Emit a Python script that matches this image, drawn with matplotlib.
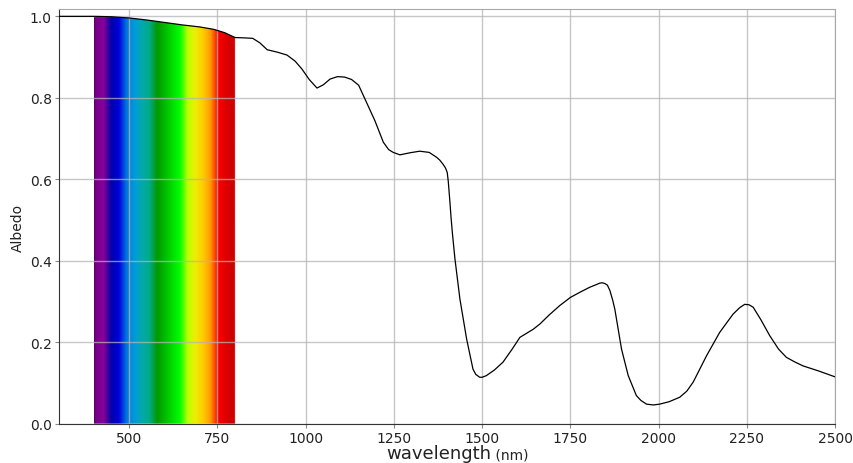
import numpy as np
import matplotlib
matplotlib.use("Agg")
import matplotlib.pyplot as plt
from matplotlib.colors import Normalize
from matplotlib.patches import Polygon

# snow albedo curve
wavelength = [300, 350, 400, 450, 500, 550, 600, 650, 700, 740, 770, 800,
              830, 850, 870, 891, 920, 947, 970, 989, 1010, 1032, 1050, 1069,
              1090, 1110, 1130, 1150, 1168, 1196, 1220, 1235, 1248, 1267, 1295,
              1323, 1350, 1371, 1380, 1390, 1396, 1401, 1404, 1408, 1412, 1416,
              1423, 1437, 1456, 1474, 1482, 1493, 1500, 1512, 1535, 1559, 1585,
              1607, 1645, 1664, 1690, 1720, 1750, 1780, 1805, 1825, 1833, 1840,
              1848, 1855, 1862, 1870, 1876, 1895, 1914, 1937, 1950, 1966, 1985,
              2003, 2030, 2060, 2080, 2098, 2136, 2173, 2211, 2230, 2244, 2256,
              2268, 2290, 2315, 2340, 2362, 2385, 2409, 2455, 2500]
albedo = [1.000, 1.000, 1.000, 0.999, 0.996, 0.991, 0.985, 0.979, 0.974, 0.968,
          0.960, 0.948, 0.947, 0.946, 0.935, 0.918, 0.912, 0.905, 0.890, 0.871,
          0.845, 0.824, 0.832, 0.846, 0.852, 0.851, 0.845, 0.831, 0.797, 0.744,
          0.691, 0.673, 0.666, 0.660, 0.665, 0.669, 0.666, 0.654, 0.647, 0.636,
          0.628, 0.617, 0.595, 0.552, 0.505, 0.465, 0.404, 0.306, 0.208, 0.134,
          0.121, 0.114, 0.114, 0.118, 0.132, 0.151, 0.183, 0.212, 0.232, 0.245,
          0.267, 0.290, 0.310, 0.324, 0.335, 0.342, 0.345, 0.346, 0.344, 0.340,
          0.327, 0.303, 0.281, 0.183, 0.118, 0.069, 0.057, 0.048, 0.046, 0.048,
          0.054, 0.065, 0.080, 0.102, 0.167, 0.224, 0.269, 0.285, 0.293, 0.292,
          0.286, 0.255, 0.216, 0.183, 0.163, 0.152, 0.142, 0.129, 0.115]

visible_range = (400, 800)
x_ticks = [500, 750, 1000, 1250, 1500, 1750, 2000, 2250, 2500]
y_ticks = [0.0, 0.2, 0.4, 0.6, 0.8, 1.0]

wl = np.array(wavelength, dtype=float)
alb = np.array(albedo, dtype=float)

fig = plt.figure(figsize=(8.54, 4.64), dpi=100)
ax = fig.add_axes([0.0687, 0.0847, 0.9778 - 0.0687, 0.9784 - 0.0847])

ax.set_xlim(300, 2500)
ax.set_ylim(0, 1.018)

# rainbow band under the curve in the visible range
lo, hi = visible_range
band = np.linspace(lo, hi, 400)[np.newaxis, :]
im = ax.imshow(band, cmap="nipy_spectral", norm=Normalize(vmin=383, vmax=816),
               extent=[lo, hi, 0, 1.018], aspect="auto", zorder=0,
               interpolation="bilinear")
mask = (wl >= lo) & (wl <= hi)
vx = wl[mask]
vy = alb[mask]
outline = np.column_stack([np.r_[vx, vx[-1], vx[0]], np.r_[vy, 0, 0]])
clip = Polygon(outline, closed=True, transform=ax.transData,
               facecolor="none", edgecolor="none")
ax.add_patch(clip)
im.set_clip_path(clip)

ax.plot(wl, alb, color="black", lw=0.9, zorder=3)

ax.set_xticks(x_ticks)
ax.set_yticks(y_ticks)
ax.set_yticklabels([f"{v:.1f}" for v in y_ticks])
ax.grid(True, color="#b4b4b4", alpha=0.75, lw=1.0)
ax.tick_params(axis="both", labelsize=10, length=3, color="#888888",
               labelcolor="#222222", pad=2)

for side in ("top", "right"):
    ax.spines[side].set_color("#a8a8a8")
for side in ("left", "bottom"):
    ax.spines[side].set_color("#333333")

ax.set_ylabel("Albedo", fontsize=10, color="#222222")
ax.yaxis.set_label_coords(-0.044, 0.474)

label = ax.text(0.422, -0.092, "wavelength", transform=ax.transAxes,
                fontsize=13, color="#222222", ha="left", va="bottom")
ax.annotate(" (nm)", xy=(1, 0), xycoords=label, fontsize=10,
            color="#222222", ha="left", va="bottom")

fig.savefig("out.png", dpi=100)
